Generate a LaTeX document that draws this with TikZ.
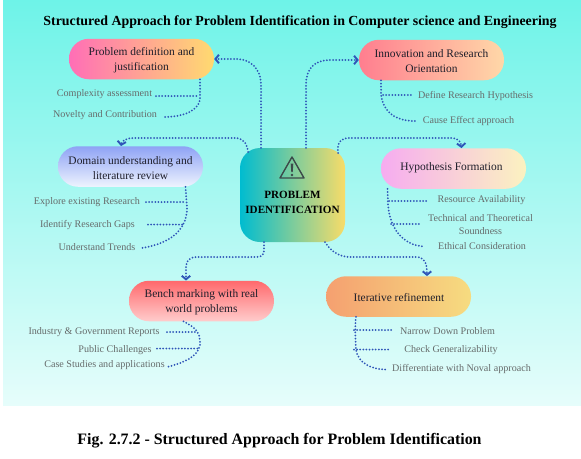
\documentclass[tikz,border=0pt]{standalone}
\usepackage{fontspec}
\setmainfont{Liberation Serif}
\usetikzlibrary{arrows.meta}
\definecolor{conn}{HTML}{2F55B8}
\definecolor{labgray}{HTML}{666B6B}
\definecolor{boxtext}{HTML}{1E1E2A}
\definecolor{iconcol}{HTML}{3C4A4A}
\tikzset{
  box/.style={rounded corners=20pt,minimum width=145pt,minimum height=40.5pt,inner sep=0pt,align=center,text=boxtext,
    font=\fontsize{11.45}{15}\selectfont},
  lab/.style={inner sep=0pt,text=labgray,align=center,yshift=-1pt,font=\fontsize{10.1}{13}\selectfont},
  conline/.style={draw=conn,line width=2pt,line cap=round,dash pattern=on 0pt off 3.1pt},
  arrowline/.style={conline,-{Straight Barb[length=3.5pt,width=8.5pt,line width=1.9pt]}},
  heading/.style={inner sep=0pt,font=\bfseries,text=black},
}
\begin{document}
\begin{tikzpicture}[x=1pt,y=-1pt]
\useasboundingbox (0,0) rectangle (581,458);
\fill[white] (0,0) rectangle (581,458);
\fill[top color={rgb,255:red,110;green,243;blue,232},bottom color={rgb,255:red,230;green,253;blue,251}] (3,0) rectangle (581,405);

\node[heading,font=\bfseries\fontsize{13.9}{16}\selectfont] (title) at (300,22) {Structured Approach for Problem Identification in Computer science and Engineering};
\node[heading,font=\bfseries\fontsize{15.9}{18}\selectfont] (caption) at (279.5,441) {Fig. 2.7.2 - Structured Approach for Problem Identification};

% main boxes
\node[box,left color={rgb,255:red,255;green,110;blue,182},right color={rgb,255:red,255;green,218;blue,112}] (pd) at (141.5,59) {};
\node[box,left color={rgb,255:red,255;green,126;blue,143},right color={rgb,255:red,255;green,216;blue,168}] (inn) at (431.5,60) {};
\node[box,top color={rgb,255:red,142;green,162;blue,245},bottom color={rgb,255:red,238;green,244;blue,254}] (dom) at (130.5,166.5) {};
\node[box,left color={rgb,255:red,246;green,172;blue,240},right color={rgb,255:red,251;green,242;blue,192}] (hyp) at (453.5,168.5) {};
\node[box,top color={rgb,255:red,255;green,105;blue,108},bottom color={rgb,255:red,255;green,204;blue,204}] (ben) at (201.5,301) {};
\node[box,left color={rgb,255:red,245;green,160;blue,112},right color={rgb,255:red,246;green,220;blue,128}] (ite) at (398.5,296.5) {};
\node[minimum width=105pt,minimum height=94pt,inner sep=0pt,rounded corners=20pt,left color={rgb,255:red,0;green,188;blue,208},right color={rgb,255:red,248;green,220;blue,104}] (prob) at (292.5,195) {};

\node[box,draw=none,minimum width=0pt,minimum height=0pt] (pdt) at (141.5,60.3) {Problem definition and\\justification};
\node[box,draw=none,minimum width=0pt,minimum height=0pt] (innt) at (431.5,61.3) {Innovation and Research\\Orientation};
\node[box,draw=none,minimum width=0pt,minimum height=0pt] (domt) at (130.5,168) {Domain understanding and\\literature review};
\node[box,draw=none,minimum width=0pt,minimum height=0pt] (hypt) at (451.5,167.5) {Hypothesis Formation};
\node[box,draw=none,minimum width=0pt,minimum height=0pt] (bent) at (201.5,302.3) {Bench marking with real\\world problems};
\node[box,draw=none,minimum width=0pt,minimum height=0pt] (itet) at (399,297.5) {Iterative refinement};
\node[inner sep=0pt,align=center,text=black,font=\bfseries\fontsize{11.1}{15}\selectfont] (probtext) at (292.5,202.5) {PROBLEM\\IDENTIFICATION};

% warning icon
\draw[iconcol,line width=1.4pt,line join=round] (292,157) -- (304,178) -- (280,178) -- cycle;
\fill[iconcol] (290.7,163.5) -- (293.3,163.5) -- (292.7,172) -- (291.3,172) -- cycle;
\fill[iconcol] (292,175) circle (1.3);

% labels
\node[lab] (l1) at (104.5,93.5) {Complexity assessment};
\node[lab] (l2) at (105,114.5) {Novelty and Contribution};
\node[lab] (l3) at (475.5,95.5) {Define Research Hypothesis};
\node[lab] (l4) at (468.5,120.5) {Cause Effect approach};
\node[lab] (l5) at (87,201.5) {Explore existing Research};
\node[lab] (l6) at (87.5,224.5) {Identify Research Gaps};
\node[lab] (l7) at (97,246.5) {Understand Trends};
\node[lab] (l8) at (481.5,199.5) {Resource Availability};
\node[lab] (l9) at (480.5,223.5) {Technical and Theoretical\\Soundness};
\node[lab] (l10) at (482,245.5) {Ethical Consideration};
\node[lab] (l11) at (94,331.5) {Industry \& Government Reports};
\node[lab] (l12) at (115,349.5) {Public Challenges};
\node[lab] (l13) at (104.5,364.5) {Case Studies and applications};
\node[lab] (l14) at (447.5,330.5) {Narrow Down Problem};
\node[lab] (l15) at (451,349.5) {Check Generalizability};
\node[lab] (l16) at (461.5,368.5) {Differentiate with Noval approach};

% centre to boxes
\draw[arrowline] ([xshift=-31.5pt]prob.north) -- (261,85) .. controls (261,68) and (250,59) .. (236,59) -- (pd.east);
\draw[arrowline] ([xshift=13.5pt]prob.north) -- (306,85) .. controls (306,68) and (315,60) .. (330,60) -- (inn.west);
\draw[arrowline] (248,152) .. controls (247,143) and (243,138) .. (235,138) -- (135,138) .. controls (127,138) and (122,140) .. ([xshift=-9.5pt]dom.north);
\draw[arrowline] (338,153) .. controls (337,143) and (340,138) .. (350,138) -- (450,138) .. controls (458,138) and (461,141) .. ([xshift=8pt]hyp.north);
\draw[arrowline] ([xshift=-28.5pt]prob.south) -- (264,250) .. controls (264,255) and (262,257) .. (256,257) -- (197,257) .. controls (189,257) and (186,261) .. (186,268) -- ([xshift=-15.5pt]ben.north);
\draw[arrowline] ([xshift=32.5pt]prob.south) .. controls (330,250) and (338,257) .. (350,257) -- (416,257) .. controls (424,257) and (427,262) .. ([xshift=28.5pt]ite.north);

% branches
\draw[conline] ([xshift=58.5pt]pd.south) -- (200,98) .. controls (200,108) and (188,117) .. (163,117);
\draw[conline] (156,96) -- (198,96);
\draw[conline] ([xshift=-50.5pt]inn.south) -- (381,95) .. controls (383,110) and (393,121) .. (415,121);
\draw[conline] (383,95) -- (414,95);
\draw[conline] ([xshift=55pt]dom.south) -- (187,208) .. controls (187,228) and (173,243) .. (142,248);
\draw[conline] (146,202) -- (186,202);
\draw[conline] (148,224.5) -- (183,224.5);
\draw[conline] ([xshift=-66pt]hyp.south) -- (388,205) .. controls (390,228) and (402,245) .. (424,246.5);
\draw[conline] (389,201) -- (428,201);
\draw[conline] (391,224) -- (421,224);
\draw[conline] ([xshift=-18pt]ben.south) .. controls (192,326) and (201,330) .. (200,345) .. controls (198,357) and (183,363) .. (167,367);
\draw[conline] (167,332) -- (197,332);
\draw[conline] (157,348.5) -- (199,348.5);
\draw[conline] ([xshift=-42.5pt]ite.south) .. controls (355,322) and (355,335) .. (356,350) .. controls (358,362) and (370,370) .. (388,369.5);
\draw[conline] (354,330) -- (393,330);
\draw[conline] (354,349.5) -- (389,349.5);
\end{tikzpicture}
\end{document}
